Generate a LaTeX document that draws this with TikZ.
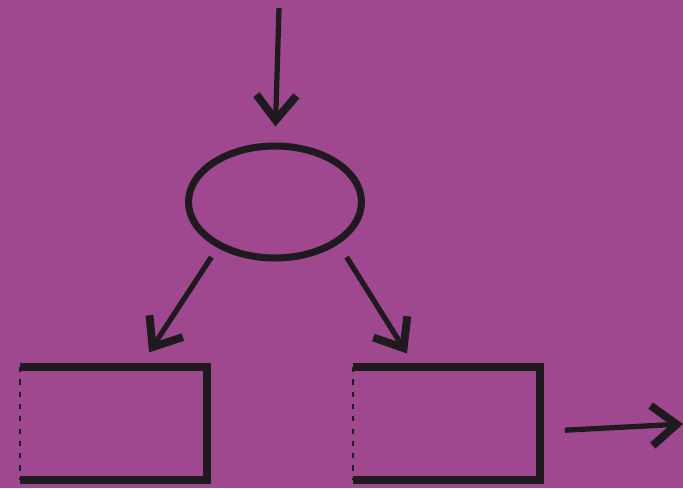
\documentclass[tikz,border=0pt]{standalone}
\usepackage{xcolor}
\definecolor{plum}{HTML}{A0488F}
\definecolor{chalk}{HTML}{1E1A1E}
\usepackage{tikz}
\usetikzlibrary{positioning,arrows.meta,shapes.geometric}

\begin{document}
\begin{tikzpicture}[x=0.02cm, y=-0.02cm,
    oval/.style={ellipse, draw=chalk, line width=4pt,
                 minimum width=3.46cm, minimum height=2.24cm, inner sep=0pt},
    frame/.style={minimum width=3.74cm, minimum height=2.26cm,
                  inner sep=0pt, outer sep=0pt},
    rim/.style={draw=chalk, line width=5pt, line join=miter},
    faint/.style={draw=chalk, line width=0.9pt, dash pattern=on 3pt off 4pt},
    flow/.style={-{Straight Barb[length=5mm, width=8mm, line width=4.5pt]},
                 line width=3pt, color=chalk}]
  \fill[plum] (0,0) rectangle (683,488);
  \useasboundingbox (0,0) rectangle (683,488);
  \node[oval] (choice) at (275,202) {};
  \node[frame] (lbox) at (113.5,423.5) {};
  \node[frame, right=2.92cm of lbox] (rbox) {};
  \coordinate (entry) at (279,8);
  \coordinate (exit) at (683,424);
  \foreach \b in {lbox,rbox} {
    \draw[rim] (\b.north west) -- (\b.north east) -- (\b.south east)
      -- (\b.south west);
    \draw[faint] (\b.north west) -- (\b.south west);
  }
  \draw[flow, shorten >=0.32cm] (entry) -- (choice.north);
  \draw[flow, shorten >=0.35cm]
    ([yshift=-0.26cm]choice.south west) -- ([xshift=0.52cm]lbox.north);
  \draw[flow, shorten >=0.32cm]
    ([xshift=0.16cm, yshift=-0.26cm]choice.south east) -- ([xshift=-0.62cm]rbox.north);
  \draw[flow, shorten <=0.5cm] ([yshift=-0.16cm]rbox.east) -- (exit);
\end{tikzpicture}
\end{document}
